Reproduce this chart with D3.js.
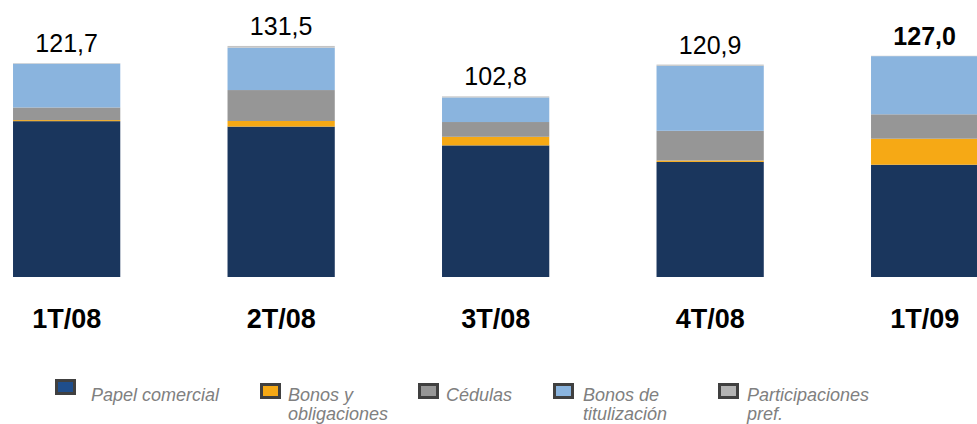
<!DOCTYPE html>
<html>
<head>
<meta charset="utf-8">
<script src="https://cdn.jsdelivr.net/npm/d3@7"></script>
<style>
  html, body { margin: 0; padding: 0; background: #fff; }
  svg { display: block; font-family: Arial, "Liberation Sans", sans-serif; }
</style>
</head>
<body>
<div id="chart"></div>
<script>
// Data (miles de millones)
const quarters = ["1T/08", "2T/08", "3T/08", "4T/08", "1T/09"];
const totals = ["121,7", "131,5", "102,8", "120,9", "127,0"];
const papelComercial = [88.7, 85.6, 74.9, 65.5, 63.9];
const bonosObligaciones = [0.6, 3.2, 4.9, 0.8, 14.8];
const cedulas = [7.2, 17.6, 8.4, 16.9, 13.9];
const bonosTitulizacion = [24.9, 24.1, 14.0, 37.0, 33.1];
const participaciones = [0.3, 1.0, 0.6, 0.7, 0.2];

const seriesNames = ["Papel comercial", "Bonos y obligaciones", "Cédulas", "Bonos de titulización", "Participaciones pref."];
const legendLines = [["Papel comercial"], ["Bonos y", "obligaciones"], ["Cédulas"], ["Bonos de", "titulización"], ["Participaciones", "pref."]];

const barColors = ["#1a365d", "#f6a915", "#969696", "#8ab4de", "#c4c4c4"];
const legendColors = ["#1f4e8c", "#f6a915", "#969696", "#8ab4de", "#b3b3b3"];

const width = 977, height = 424;
const svg = d3.select("#chart").append("svg")
  .attr("width", width)
  .attr("height", height);

// build rows for the stack
const rows = quarters.map((q, i) => ({
  q,
  "Papel comercial": papelComercial[i],
  "Bonos y obligaciones": bonosObligaciones[i],
  "Cédulas": cedulas[i],
  "Bonos de titulización": bonosTitulizacion[i],
  "Participaciones pref.": participaciones[i]
}));
const stacked = d3.stack().keys(seriesNames)(rows);

const x = d3.scaleBand()
  .domain(quarters)
  .range([-40.6, 1031.9])
  .paddingInner(0.5)
  .paddingOuter(0.25);

const y = d3.scaleLinear()
  .domain([0, 100])
  .range([277, 101.3]);

// Bars
svg.append("g")
  .selectAll("g")
  .data(stacked)
  .join("g")
    .attr("fill", (d, i) => barColors[i])
  .selectAll("rect")
  .data(d => d)
  .join("rect")
    .attr("x", d => x(d.data.q))
    .attr("width", x.bandwidth())
    .attr("y", d => y(d[1]))
    .attr("height", d => y(d[0]) - y(d[1]));

// Totals above bars
const tops = rows.map(r => seriesNames.reduce((s, k) => s + r[k], 0));
svg.append("g")
  .selectAll("text")
  .data(quarters)
  .join("text")
    .attr("x", q => x(q) + x.bandwidth() / 2)
    .attr("y", (q, i) => y(tops[i]) - 11)
    .attr("text-anchor", "middle")
    .attr("font-size", "25px")
    .attr("font-weight", (q, i) => i === quarters.length - 1 ? "bold" : "normal")
    .attr("fill", "#000")
    .text((q, i) => totals[i]);

// Category labels
svg.append("g")
  .selectAll("text")
  .data(quarters)
  .join("text")
    .attr("x", q => x(q) + x.bandwidth() / 2)
    .attr("y", 328)
    .attr("text-anchor", "middle")
    .attr("font-size", "27px")
    .attr("font-weight", "bold")
    .attr("fill", "#000")
    .text(q => q);

// Legend
const legendX = [55, 260, 418, 553, 718];
const legendTextX = [91, 288, 446, 583, 747];
const legend = svg.append("g")
  .selectAll("g")
  .data(seriesNames)
  .join("g");

legend.append("rect")
  .attr("x", (d, i) => legendX[i] + 1.5)
  .attr("y", (d, i) => (i === 0 ? 379 : 383) + 1.5)
  .attr("width", 18)
  .attr("height", 13)
  .attr("fill", (d, i) => legendColors[i])
  .attr("stroke", "#404040")
  .attr("stroke-width", 3);

legend.append("text")
  .attr("x", (d, i) => legendTextX[i])
  .attr("y", 400.5)
  .attr("font-size", "18px")
  .attr("font-style", "italic")
  .attr("fill", "#808080")
  .selectAll("tspan")
  .data((d, i) => legendLines[i].map(t => ({ t, i })))
  .join("tspan")
    .attr("x", d => legendTextX[d.i])
    .attr("dy", (d, j) => j === 0 ? 0 : 19.5)
    .text(d => d.t);
</script>
</body>
</html>
